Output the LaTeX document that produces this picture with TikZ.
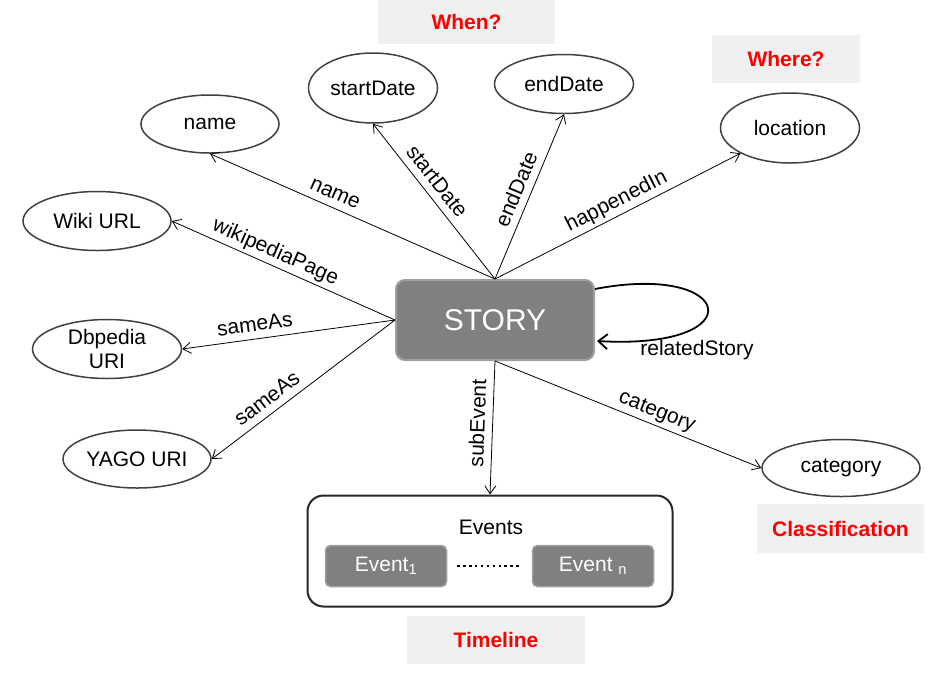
\documentclass[tikz,border=0pt]{standalone}
\usepackage{fontspec}
\setmainfont{Liberation Sans}
\usepackage{tikz}
\usetikzlibrary{arrows.meta,shapes.geometric}
\tikzset{
ATTR/.style ={ellipse,draw=black!75,line width=1.5pt,inner sep=0pt,align=center},
TAG/.style ={fill=gray!12,text=red,font=\fontsize{21}{24}\selectfont\bfseries,inner sep=0pt},
STORYBOX/.style ={fill=gray,draw=gray!75,line width=2pt,rounded corners=9pt,text=white,minimum width=198pt,minimum height=80pt,font=\fontsize{30}{34}\selectfont},
GROUP/.style ={draw=black!85,line width=2pt,rounded corners=16pt,minimum width=365pt,minimum height=111pt},
EVBOX/.style ={fill=gray,draw=gray!75,line width=1.5pt,rounded corners=5pt,text=white,minimum width=121pt,minimum height=41pt,inner sep=0pt},
DOTS/.style ={draw=black,line width=2.5pt,dash pattern=on 2.5pt off 3.4pt},
EDGE/.style ={draw=black,line width=0.8pt,-{Straight Barb[length=8pt,width=11pt]}},
EDGELBL/.style ={sloped,above,inner sep=3pt,text height=15pt,text depth=4.5pt},
LOOP/.style ={draw=black,line width=1.8pt,-{Straight Barb[length=9pt,width=15pt]}},
}
\begin{document}
\begin{tikzpicture}[x=1pt,y=-1pt,font=\fontsize{21}{24}\selectfont]
	\useasboundingbox (0,0) rectangle (931,673);
	\foreach \nm/\px/\py/\ww/\hh/\txt in {name/210/124/138/58/name,wiki/97/221/148/59/Wiki URL,dbpedia/107/349/149/59/{Dbpedia\\URI},yago/137/459/148/58/YAGO URI,startDate/373/88/129/70/startDate,endDate/564/84/139/59/endDate,location/790/128/139/70/location,category/841/468/158/57/category} %attributes
		\node[ATTR,minimum width=\ww pt,minimum height=\hh pt] (\nm) at (\px,\py) {\txt};
	\foreach \nm/\px/\py/\ww/\hh/\txt in {when/466.5/22/177/44/When?,where/786/59/148/48/Where?,classif/840.5/528.5/167/49/Classification,timeline/496/640/178/48/Timeline} %questions
		\node[TAG,minimum width=\ww pt,minimum height=\hh pt] (\nm) at (\px,\py) {\txt};
	\node[STORYBOX] (STORY) at (495,320) {STORY};
	% events
	\node[GROUP] (events) at (490,551) {};
	\node (evTitle) at (491,527) {Events};
	\node[EVBOX] (ev1) at (386,566) {Event\textsubscript{1}};
	\node[EVBOX] (evn) at (593,566) {Event \textsubscript{n}};
	\draw[DOTS] ([xshift=10pt]ev1.east) -- ([xshift=-12pt]evn.west);
	% properties
	\foreach \src/\dst/\ps/\lbl [count=\k] in {north/name.south/.58/name,north/startDate.south/.57/startDate,north/endDate.south/.51/endDate,north/location/.52/happenedIn,west/wiki.east/.56/wikipediaPage,west/dbpedia.east/.65/sameAs,west/yago.east/.65/sameAs,south/events.north/.47/subEvent,south/category.west/.59/category}
		\draw[EDGE] (STORY.\src) -- (\dst) node[EDGELBL,pos=\ps] (lbl\k) {\lbl};
	\draw[LOOP] ([yshift=-10pt]STORY.north east) .. controls (735,262) and (755,350) .. ([xshift=2pt,yshift=20pt]STORY.south east);
	\node (relLbl) at (697,350) {relatedStory};
\end{tikzpicture}
\end{document}
